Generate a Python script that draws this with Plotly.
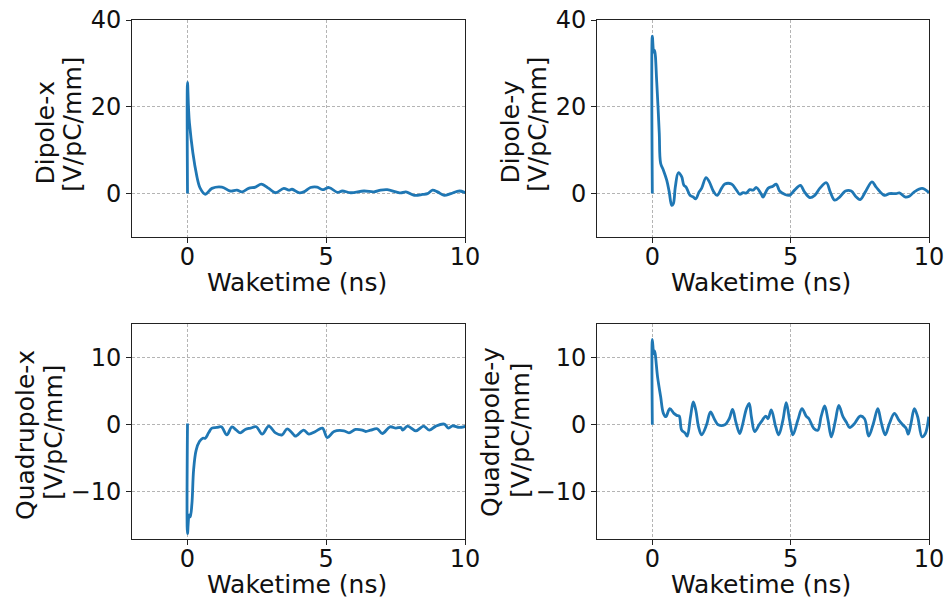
import plotly.graph_objects as go

W, H = 947, 597
BLUE = "#1f77b4"
FONT = "DejaVu Sans"

# Wake functions (time in ns, wake in V/pC/mm)
dipole_x_t = [0, 0, 0.07, 0.34, 0.46, 0.64, 0.88, 1.24, 1.54, 1.78, 1.96, 2.20, 2.45, 2.66,
              2.93, 3.17, 3.47, 3.65, 3.77, 4.01, 4.19, 4.43, 4.67, 4.86, 5.10, 5.40, 5.58,
              5.88, 6.36, 6.72, 6.96, 7.20, 7.51, 7.69, 7.87, 8.17, 8.47, 8.65, 8.83, 9.01,
              9.25, 9.49, 9.80, 10.04]
dipole_x_w = [0, 25.6, 16.3, 3.9, 1.2, -0.15, 1.2, 1.5, 0.6, 0.8, 0.4, 1.2, 1.5, 2.2,
              1.2, 0.2, 1.2, 0.8, 1.0, 0.2, 0.4, 1.4, 1.5, 0.9, 1.4, 0.3, 0.6,
              0.2, 0.6, 0.4, 0.8, 0.9, 0.4, 0.15, 0.4, -0.4, -0.2, 0.0, 0.8, 0.4,
              -0.4, 0.0, 0.6, 0.15]

dipole_y_t = [0, 0, 0.05, 0.08, 0.16, 0.25, 0.30, 0.40, 0.52, 0.61, 0.70, 0.76, 0.83, 0.94,
              1.06, 1.14, 1.22, 1.36, 1.48, 1.57, 1.69, 1.78, 1.94, 2.06, 2.22, 2.34, 2.50,
              2.62, 2.86, 3.04, 3.16, 3.28, 3.40, 3.52, 3.64, 3.76, 3.94, 4.00, 4.18, 4.36,
              4.48, 4.60, 4.78, 4.96, 5.14, 5.35, 5.50, 5.69, 5.87, 6.05, 6.29, 6.43, 6.59,
              6.77, 6.98, 7.19, 7.37, 7.51, 7.70, 7.94, 8.09, 8.39, 8.57, 8.81, 8.93, 9.15,
              9.29, 9.47, 9.75, 10.0]
dipole_y_w = [0, 36.3, 32.6, 33.0, 25.6, 14.0, 7.0, 5.4, 3.1, 0.4, -2.7, -2.3, 1.5, 4.8,
              3.9, 1.9, 1.5, -0.4, -0.8, -1.2, 0.4, 1.2, 3.7, 2.7, 0.4, -0.4, 1.2,
              2.2, 2.2, 0.8, -0.15, 0.2, 0.15, 0.9, 0.8, 1.4, -0.15, -0.8, 1.2, 1.7,
              2.2, 0.6, -0.15, -0.4, 0.8, 1.9, 0.4, -0.9, -0.4, 1.2, 2.5, 0.4, -1.5,
              -0.8, 0.6, 0.6, -0.8, -1.4, 0.4, 2.7, 1.5, -0.4, 0.0, 0.0, 0.15, -0.8,
              -0.6, 0.4, 1.2, 0.2]

quad_x_t = [0, 0, 0.06, 0.10, 0.16, 0.22, 0.31, 0.43, 0.55, 0.64, 0.76, 0.88, 1.06, 1.22,
            1.42, 1.60, 1.76, 1.90, 2.08, 2.27, 2.48, 2.69, 2.93, 3.17, 3.41, 3.59, 3.81,
            3.89, 4.19, 4.37, 4.61, 4.86, 5.04, 5.28, 5.64, 5.82, 6.06, 6.30, 6.42, 6.60,
            6.84, 7.02, 7.30, 7.51, 7.69, 7.75, 7.93, 8.23, 8.51, 8.71, 8.95, 9.25, 9.41,
            9.55, 9.80, 10.04]
quad_x_w = [0.2, -16.2, -13.4, -13.7, -11.7, -6.7, -3.8, -2.5, -2.0, -2.0, -1.2, -0.5, -0.4, -0.3,
            -1.5, -0.3, -0.8, -1.2, -0.7, -0.5, -0.3, -1.4, -0.2, -1.2, -1.5, -0.6, -1.4,
            -1.7, -0.8, -1.4, -1.0, -0.5, -1.9, -1.0, -0.9, -1.2, -0.7, -0.8, -1.0, -0.8,
            -0.6, -1.3, -0.3, -0.5, -0.4, -0.8, -0.2, -0.9, -0.2, -0.8, -0.2, 0.1, -0.5,
            -0.15, -0.4, -0.2]

quad_y_t = [0, 0, 0.05, 0.08, 0.19, 0.30, 0.40, 0.49, 0.63, 0.78, 0.88, 0.97, 1.06, 1.18,
            1.26, 1.38, 1.48, 1.57, 1.67, 1.78, 1.96, 2.10, 2.26, 2.38, 2.62, 2.78, 2.90,
            3.02, 3.16, 3.26, 3.40, 3.50, 3.58, 3.70, 3.86, 3.98, 4.10, 4.18, 4.30, 4.46,
            4.57, 4.72, 4.84, 4.96, 5.08, 5.26, 5.41, 5.56, 5.66, 5.83, 5.98, 6.10, 6.23,
            6.35, 6.47, 6.62, 6.74, 6.89, 7.01, 7.13, 7.31, 7.51, 7.67, 7.82, 7.99, 8.15,
            8.27, 8.42, 8.57, 8.75, 8.91, 9.05, 9.17, 9.25, 9.35, 9.47, 9.59, 9.75, 9.87,
            9.99]
quad_y_w = [0, 12.7, 10.6, 11.0, 7.1, 4.2, 1.7, 1.2, 2.4, 1.7, 1.4, 1.3, -0.8, -1.2,
            -1.7, 1.2, 3.4, 2.2, -0.3, -1.5, 0.0, 1.9, 0.7, 0.0, 0.0, 0.9, 2.3,
            0.4, -1.3, 0.0, 2.4, 3.2, 1.2, -1.0, 0.0, 0.7, 1.3, 0.9, 2.2, -0.3,
            -1.5, 0.7, 3.3, 0.7, -1.5, 0.7, 2.4, 1.3, 0.9, -0.5, -0.8, 1.2, 2.8,
            0.7, -1.8, 0.7, 2.9, 1.2, 0.4, -0.4, 0.2, 1.3, 0.9, -1.7, 0.2, 2.4,
            0.4, -1.5, 0.2, 1.7, 0.7, 0.0, -0.5, -1.4, 0.2, 2.4, 1.2, -1.8, -1.3,
            1.2]

panels = [
    # (t, w, ylabel, x pixel span, y pixel span, y range, y ticks, label centres)
    (dipole_x_t, dipole_x_w, "Dipole-x", (132, 465), (20, 237), [-10, 40], [0, 20, 40], (45, 132.5, 73, 124)),
    (dipole_y_t, dipole_y_w, "Dipole-y", (597, 929), (20, 237), [-10, 40], [0, 20, 40], (510, 132.5, 538, 124)),
    (quad_x_t, quad_x_w, "Quadrupole-x", (132, 465), (324, 539), [-17, 15], [-10, 0, 10], (25, 435, 53, 432)),
    (quad_y_t, quad_y_w, "Quadrupole-y", (597, 929), (324, 539), [-17, 15], [-10, 0, 10], (490, 432, 520, 430)),
]

fig = go.Figure()
annotations = []
title_font = dict(family=FONT, size=25, color="#111111")
for i, (t, w, name, (x0, x1), (y0, y1), yr, yt, (lx1, ly1, lx2, ly2)) in enumerate(panels):
    k = "" if i == 0 else str(i + 1)
    fig.add_trace(go.Scatter(x=t, y=w, mode="lines", xaxis="x" + k, yaxis="y" + k,
                             line=dict(color=BLUE, width=2.8, shape="spline", smoothing=1.0),
                             showlegend=False, hoverinfo="skip"))
    common = dict(showline=True, mirror=True, linecolor="#222222", linewidth=1,
                  showgrid=True, gridcolor="#b4b4b4", gridwidth=0.8, griddash="3px,2px",
                  zeroline=False, ticks="outside", ticklen=5, tickwidth=1, automargin=False,
                  tickcolor="#222222", tickfont=dict(family=FONT, size=24, color="#111111"))
    fig.update_layout(**{
        "xaxis" + k: dict(domain=[x0 / W, x1 / W], range=[-2, 10], tickvals=[0, 5, 10],
                          anchor="y" + k, ticklabelstandoff=-7, **common),
        "yaxis" + k: dict(domain=[1 - y1 / H, 1 - y0 / H], range=yr, tickvals=yt,
                          anchor="x" + k, **common),
    })
    annotations.append(dict(text="Waketime (ns)", x=((x0 + x1) / 2 - 2) / W,
                            y=1 - (y1 + 45) / H, xref="paper", yref="paper",
                            showarrow=False, font=title_font,
                            xanchor="center", yanchor="middle"))
    annotations.append(dict(text=name, x=lx1 / W, y=1 - ly1 / H, xref="paper",
                            yref="paper", showarrow=False, textangle=-90, font=title_font,
                            xanchor="center", yanchor="middle"))
    annotations.append(dict(text="[V/pC/mm]", x=lx2 / W, y=1 - ly2 / H, xref="paper",
                            yref="paper", showarrow=False, textangle=-90, font=title_font,
                            xanchor="center", yanchor="middle"))

fig.update_layout(width=W, height=H, margin=dict(l=0, r=0, t=0, b=0, pad=0),
                  paper_bgcolor="white", plot_bgcolor="white",
                  annotations=annotations)
fig.write_html("out.html")
